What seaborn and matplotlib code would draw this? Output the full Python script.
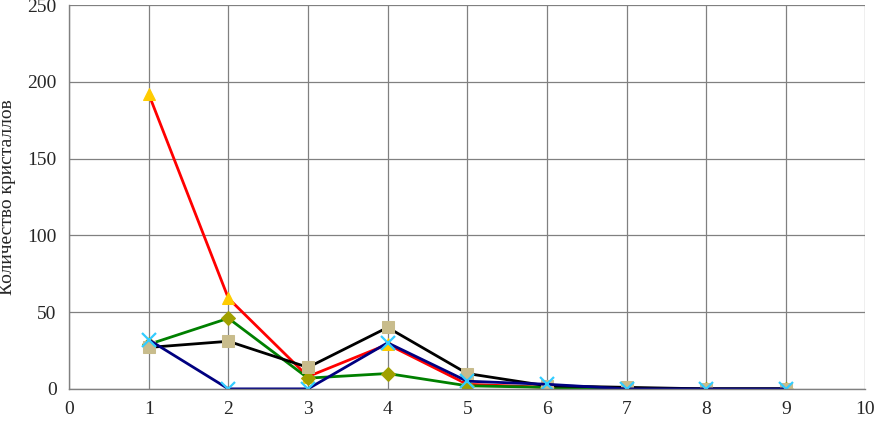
import numpy as np
import pandas as pd
import matplotlib
matplotlib.use("Agg")
import matplotlib.pyplot as plt
import seaborn as sns

# ======================================
# Data
# ======================================

x_values = [1, 2, 3, 4, 5, 6, 7, 8, 9]
red_series = [192, 59, 8, 29, 3, 1, 0, 0, 0]
green_series = [29, 46, 7, 10, 2, 1, 0, 0, 0]
black_series = [27, 31, 14, 40, 10, 2, 1, 0, 0]
navy_series = [32, 0, 0, 30, 5, 3, 0, 0, 0]

series_names = ["s1", "s2", "s3", "s4"]
y_label = "Количество кристаллов"

df = pd.DataFrame({
    "x": x_values * 4,
    "y": red_series + green_series + black_series + navy_series,
    "series": np.repeat(series_names, len(x_values)),
})

# ======================================
# Styling
# ======================================

sns.set_style("white")
plt.rcParams["font.family"] = ["Liberation Serif", "DejaVu Serif"]

line_colors = {"s1": "#FF0000", "s2": "#008000", "s3": "#000000", "s4": "#000080"}
marker_styles = {
    "s1": dict(marker="^", markerfacecolor="#FFCC00", markeredgecolor="#FFCC00", markersize=9),
    "s2": dict(marker="D", markerfacecolor="#A0A000", markeredgecolor="#A0A000", markersize=7),
    "s3": dict(marker="s", markerfacecolor="#C8BC8C", markeredgecolor="#C8BC8C", markersize=8),
    "s4": dict(marker="x", markerfacecolor="#33CCFF", markeredgecolor="#33CCFF", markersize=10,
               markeredgewidth=1.6),
}

fig = plt.figure(figsize=(8.75, 4.25), dpi=100)
ax = fig.add_axes([0.079, 0.085, 0.910, 0.903])

for name in ["s1", "s2", "s3", "s4"]:
    sub = df[df["series"] == name]
    sns.lineplot(data=sub, x="x", y="y", ax=ax, color=line_colors[name],
                 linewidth=2, legend=False, **marker_styles[name])

ax.set_xlim(0, 10)
ax.set_ylim(0, 250)
ax.set_xticks(range(0, 11))
ax.set_yticks(range(0, 251, 50))
ax.grid(True, color="#808080", linewidth=0.9)
ax.set_axisbelow(True)

for side in ["top", "right"]:
    ax.spines[side].set_visible(False)
for side in ["left", "bottom"]:
    ax.spines[side].set_color("#808080")
    ax.spines[side].set_linewidth(1)

ax.tick_params(axis="both", direction="out", length=5, width=1, color="#808080",
               labelsize=14, pad=4)
ax.set_xlabel("")
ax.set_ylabel(y_label, fontsize=14, labelpad=8)

fig.savefig("out.png", dpi=100)
